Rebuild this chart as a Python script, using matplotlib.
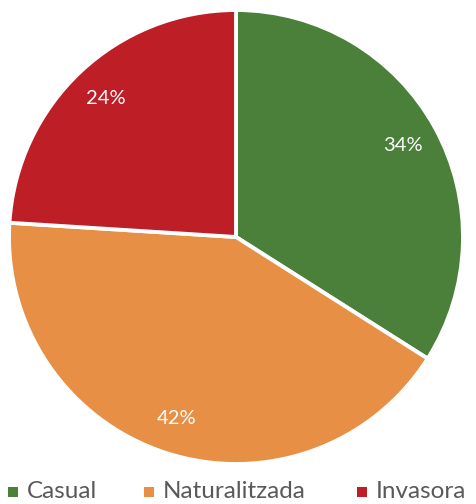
import matplotlib
matplotlib.use("Agg")
import matplotlib.pyplot as plt
from matplotlib.patches import Rectangle

categories = ["Casual", "Naturalitzada", "Invasora"]
values = [34, 42, 24]
colors = ["#4B803A", "#E68F45", "#BE1E26"]

plt.rcParams['font.family'] = ['Lato', 'DejaVu Sans']

W, H = 476, 504
fig = plt.figure(figsize=(W / 100, H / 100), dpi=100)
cx, cy, r = 236, 237, 227
ax = fig.add_axes([(cx - r) / W, (H - cy - r) / H, 2 * r / W, 2 * r / H])

wedges, texts, autotexts = ax.pie(
    values, colors=colors, startangle=90, counterclock=False, radius=1,
    autopct=lambda p: f"{p:.0f}%", pctdistance=0.84,
    wedgeprops=dict(edgecolor="white", linewidth=2.8),
    textprops=dict(color="white", fontsize=14.5),
)
ax.set_xlim(-1, 1)
ax.set_ylim(-1, 1)
ax.set_aspect('equal')
ax.axis('off')

# Legend entries laid out by hand along the bottom edge
legend_y = (H - 492) / H
marker_x = [8, 144, 357]
for x, c, name in zip(marker_x, colors, categories):
    fig.patches.append(Rectangle((x / W, (H - 497) / H), 10 / W, 10 / H,
                                 transform=fig.transFigure,
                                 facecolor=c, edgecolor='none'))
    fig.text((x + 19) / W, legend_y, name, fontsize=17.5, color="#595959",
             ha='left', va='center')

fig.savefig("out.png", dpi=100)
